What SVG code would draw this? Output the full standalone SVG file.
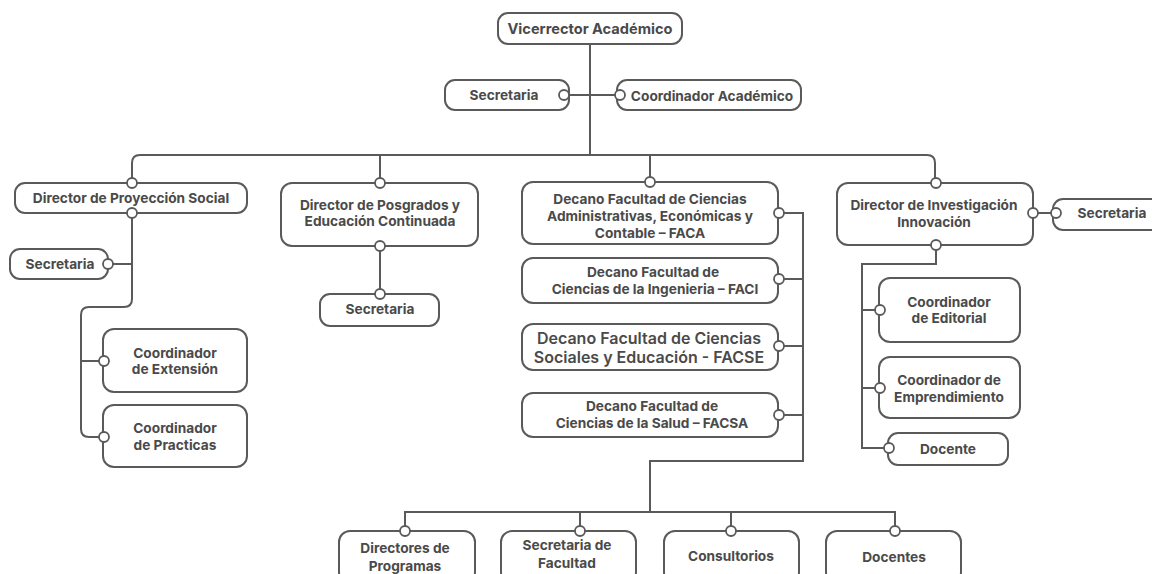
<svg xmlns="http://www.w3.org/2000/svg" width="1152" height="574" viewBox="0 0 1152 574">
<style>
.bx{fill:#fff;stroke:#5a5a5a;stroke-width:2}
.ln{fill:none;stroke:#5a5a5a;stroke-width:2}
.dot{fill:#fff;stroke:#5a5a5a;stroke-width:1.8}
text{font-family:Inter,"Noto Sans",sans-serif;font-weight:700;font-size:13.7px;fill:#4a4a4a;text-anchor:middle;dominant-baseline:central}
.big{font-size:16px;font-weight:600}
</style>
<rect width="1152" height="574" fill="#fff"/>
<g id="connectors">
<path class="ln" d="M590 44V155"/>
<path class="ln" d="M564 95H617"/>
<path class="ln" d="M132 183V163Q132 155 140 155H927Q935 155 935 163V183"/>
<path class="ln" d="M380 155V183"/>
<path class="ln" d="M650 155V182"/>
<path class="ln" d="M132 213V299Q132 307 124 307H89Q81 307 81 315V429Q81 437 89 437H103"/>
<path class="ln" d="M108 264H132"/>
<path class="ln" d="M81 361H103"/>
<path class="ln" d="M380 246V294"/>
<path class="ln" d="M779 213H803V461H650V512"/>
<path class="ln" d="M779 279H803M779 346H803M779 415H803"/>
<path class="ln" d="M405 531V512H895V531M580 512V531M731 512V531"/>
<path class="ln" d="M1033 213H1055"/>
<path class="ln" d="M936 245V264H862V448H888"/>
<path class="ln" d="M862 310H880M862 388H880"/>
</g>
<g id="vicerrector"><rect class="bx" x="498" y="13" width="184" height="31" rx="10"/><text x="590" y="29" style="font-size:14.6px">Vicerrector Académico</text></g>
<g id="secretaria-top"><rect class="bx" x="445" y="80" width="124" height="30" rx="10"/><text x="504" y="95">Secretaria</text><circle class="dot" cx="564" cy="95" r="5"/></g>
<g id="coord-academico"><rect class="bx" x="617" y="80" width="184" height="30" rx="10"/><text x="712" y="96">Coordinador Académico</text><circle class="dot" cx="620" cy="95" r="5"/></g>
<g id="dir-proyeccion"><rect class="bx" x="15" y="183" width="232" height="30" rx="10"/><text x="131" y="198">Director de Proyección Social</text><circle class="dot" cx="132" cy="183" r="5"/><circle class="dot" cx="132" cy="213" r="5"/></g>
<g id="secretaria-proy"><rect class="bx" x="10" y="249" width="98" height="30" rx="10"/><text x="60" y="264">Secretaria</text><circle class="dot" cx="108" cy="264" r="5"/></g>
<g id="coord-extension"><rect class="bx" x="103" y="329" width="144" height="63" rx="11"/><text x="175" y="353">Coordinador</text><text x="175" y="369">de Extensión</text><circle class="dot" cx="104" cy="361" r="5"/></g>
<g id="coord-practicas"><rect class="bx" x="103" y="405" width="144" height="62" rx="11"/><text x="175" y="428">Coordinador</text><text x="175" y="445">de Practicas</text><circle class="dot" cx="104" cy="437" r="5"/></g>
<g id="dir-posgrados"><rect class="bx" x="281" y="183" width="197" height="63" rx="11"/><text x="380" y="205">Director de Posgrados y</text><text x="380" y="221">Educación Continuada</text><circle class="dot" cx="380" cy="183" r="5"/><circle class="dot" cx="380" cy="246" r="5"/></g>
<g id="secretaria-posg"><rect class="bx" x="320" y="294" width="119" height="32" rx="10"/><text x="380" y="309">Secretaria</text><circle class="dot" cx="380" cy="294" r="5"/></g>
<g id="faca"><rect class="bx" x="522" y="182" width="256" height="62" rx="11"/><text x="650" y="199">Decano Facultad de Ciencias</text><text x="650" y="216">Administrativas, Económicas y</text><text x="650" y="233">Contable – FACA</text><circle class="dot" cx="650" cy="182" r="5"/><circle class="dot" cx="779" cy="213" r="5"/></g>
<g id="faci"><rect class="bx" x="522" y="258" width="256" height="45" rx="11"/><text x="653" y="272">Decano Facultad de</text><text x="655" y="289">Ciencias de la Ingenieria – FACI</text><circle class="dot" cx="779" cy="279" r="5"/></g>
<g id="facse"><rect class="bx" x="522" y="324" width="256" height="46" rx="11"/><text class="big" x="649" y="338">Decano Facultad de Ciencias</text><text class="big" x="649" y="357">Sociales y Educación - FACSE</text><circle class="dot" cx="779" cy="346" r="5"/></g>
<g id="facsa"><rect class="bx" x="522" y="393" width="256" height="44" rx="11"/><text x="652" y="406">Decano Facultad de</text><text x="652" y="423">Ciencias de la Salud – FACSA</text><circle class="dot" cx="779" cy="415" r="5"/></g>
<g id="dir-investigacion"><rect class="bx" x="837" y="183" width="196" height="62" rx="11"/><text x="934" y="205">Director de Investigación</text><text x="934" y="222">Innovación</text><circle class="dot" cx="936" cy="183" r="5"/><circle class="dot" cx="936" cy="245" r="5"/><circle class="dot" cx="1033" cy="213" r="5"/></g>
<g id="secretaria-inv"><rect class="bx" x="1053" y="199" width="110" height="31" rx="10"/><text x="1112" y="213">Secretaria</text><circle class="dot" cx="1056" cy="213" r="5"/></g>
<g id="coord-editorial"><rect class="bx" x="879" y="278" width="141" height="64" rx="11"/><text x="949" y="302">Coordinador</text><text x="949" y="318">de Editorial</text><circle class="dot" cx="880" cy="310" r="5"/></g>
<g id="coord-emprendimiento"><rect class="bx" x="879" y="357" width="141" height="61" rx="11"/><text x="949" y="380">Coordinador de</text><text x="949" y="397">Emprendimiento</text><circle class="dot" cx="880" cy="388" r="5"/></g>
<g id="docente"><rect class="bx" x="888" y="433" width="120" height="32" rx="10"/><text x="948" y="449">Docente</text><circle class="dot" cx="889" cy="448" r="5"/></g>
<g id="directores-programas"><rect class="bx" x="339" y="531" width="136" height="52" rx="11"/><text x="405" y="548">Directores de</text><text x="405" y="566">Programas</text><circle class="dot" cx="405" cy="531" r="5"/></g>
<g id="secretaria-facultad"><rect class="bx" x="501" y="531" width="135" height="52" rx="11"/><text x="567" y="545">Secretaria de</text><text x="567" y="563">Facultad</text><circle class="dot" cx="580" cy="531" r="5"/></g>
<g id="consultorios"><rect class="bx" x="664" y="531" width="135" height="52" rx="11"/><text x="731" y="556">Consultorios</text><circle class="dot" cx="731" cy="531" r="5"/></g>
<g id="docentes"><rect class="bx" x="826" y="531" width="135" height="52" rx="11"/><text x="894" y="557">Docentes</text><circle class="dot" cx="895" cy="531" r="5"/></g>
</svg>
